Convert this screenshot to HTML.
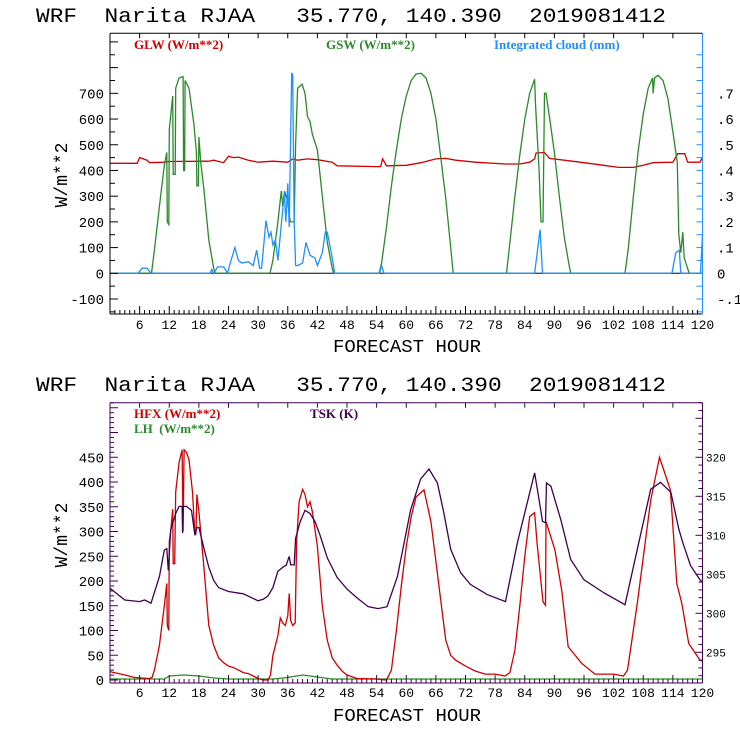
<!DOCTYPE html>
<html><head><meta charset="utf-8"><style>
body{margin:0;background:#fff}
svg{display:block}
text{font-family:"Liberation Mono",monospace}
.ttl{white-space:pre}
.leg{font-family:"Liberation Serif",serif;font-size:13px;font-weight:bold}
</style></head><body>
<svg id="chart" width="740" height="740" viewBox="0 0 740 740" xmlns="http://www.w3.org/2000/svg">
<rect width="740" height="740" fill="#fff"/>
<text class="ttl" xml:space="preserve" x="36" y="22" font-size="20" textLength="630" lengthAdjust="spacingAndGlyphs">WRF  Narita RJAA   35.770, 140.390  2019081412</text>
<text class="ttl" xml:space="preserve" x="36" y="391" font-size="20" textLength="630" lengthAdjust="spacingAndGlyphs">WRF  Narita RJAA   35.770, 140.390  2019081412</text>
<text class="leg" x="134" y="49" fill="#d00000">GLW (W/m**2)</text>
<text class="leg" x="326" y="49" fill="#2a8a2a">GSW (W/m**2)</text>
<text class="leg" x="494" y="49" fill="#1e90ff">Integrated cloud (mm)</text>
<text class="leg" x="134" y="418" fill="#d00000">HFX (W/m**2)</text>
<text class="leg ttl" xml:space="preserve" x="134" y="433" fill="#2a8a2a">LH  (W/m**2)</text>
<text class="leg" x="310" y="418" fill="#400050">TSK (K)</text>
<text x="333" y="352" font-size="18" textLength="148" lengthAdjust="spacingAndGlyphs">FORECAST HOUR</text>
<text x="333" y="721" font-size="18" textLength="148" lengthAdjust="spacingAndGlyphs">FORECAST HOUR</text>
<text transform="translate(67,175) rotate(-90)" text-anchor="middle" font-size="18">W/m**2</text>
<text transform="translate(67,535) rotate(-90)" text-anchor="middle" font-size="18">W/m**2</text>
<g id="g"></g>
</svg>
<script>
// ---- data ----
const xTicks=[6,12,18,24,30,36,42,48,54,60,66,72,78,84,90,96,102,108,114,120];
const topLeftTicks=[-100,0,100,200,300,400,500,600,700];
const topRightTicks=[-0.1,0,0.1,0.2,0.3,0.4,0.5,0.6,0.7];
const topRightLabels=["-.1","0",".1",".2",".3",".4",".5",".6",".7"];
const botLeftTicks=[0,50,100,150,200,250,300,350,400,450];
const botRightTicks=[295,300,305,310,315,320];

const glwH=[0,5.5,6,7.5,8,11,12,20,21,23,24,25,26,28,30,33,36,37,38,40,42,45,46,54,54.8,55.2,56,60,63,66,68,70,74,80,83,85,86,86.3,88,89,92,96,100,103,106,108,110,114,115,116.4,117,119.5,120];
const glwV=[428,428,450,440,430,432,435,436,440,430,455,450,452,440,432,436,432,445,440,445,442,432,418,415,415,445,418,420,430,445,447,440,432,425,425,432,445,468,470,447,440,430,420,412,412,420,430,432,465,465,432,432,452];

const gswH=[0,8.4,9,10,11,11.5,11.6,11.9,12,12.7,12.8,13.2,13.3,14,14.8,14.9,15.1,15.2,16,17,17.5,17.6,17.9,18,18.4,19,20,21,21.3,32.4,33,34,34.7,35,35.5,36,36.5,37.3,37.6,38,38.9,39.5,40,40.5,41,42,43,44,45,45.3,54.5,55,56,57,58,59,60,61,62,63,64,65,66,67,68,69,69.5,80.3,81,82,83,84,85,86,86.2,86.9,87.3,87.7,88,88.3,89,90,91,92,93,93.3,104.3,105,106,107,108,109,109.9,110,110.3,111,112,113,114,114.9,115.2,115.6,116,116.3,117.3,120];
const gswV=[0,0,90,260,420,470,200,190,560,690,385,385,720,760,765,400,400,750,720,580,470,340,340,530,430,330,130,20,0,0,50,200,320,260,310,280,200,200,500,720,735,700,610,590,540,480,300,120,20,0,0,40,180,340,480,600,690,750,775,778,760,700,600,450,290,100,0,0,120,300,460,600,700,755,650,400,200,200,700,700,610,470,300,140,30,0,0,100,300,480,620,720,760,700,760,770,750,680,550,430,150,80,160,60,0,0];

const cldH=[0,5.7,6.5,7.5,8.3,20.3,20.6,21,21.8,23,23.8,24.5,25.3,26,26.7,28,29,29.7,30.3,30.7,31.6,32.2,32.6,33,33.5,34,35,35.3,35.6,36,36.3,36.8,37,37.3,37.6,38,39,39.7,40.5,41.5,42,43,43.6,44,45,45.5,54.6,55,55.5,86,87.1,87.6,113.8,114.6,115.3,115.6,119.6,120];
const cldV=[0,0,0.02,0.02,0,0,0.015,0,0.025,0.025,0,0.05,0.1,0.05,0.04,0.045,0.03,0.09,0.02,0.02,0.205,0.14,0.16,0.11,0.13,0.05,0.25,0.32,0.2,0.35,0.18,0.78,0.77,0.2,0.03,0.03,0.04,0.12,0.07,0.06,0.03,0.08,0.16,0.16,0.06,0,0,0.03,0,0,0.17,0,0,0.08,0.09,0,0,0.15];

const hfxH=[0,3,5,8,8.5,9,10,11,11.5,11.6,11.9,12,12.3,12.7,12.8,13.1,13.3,14,14.6,14.8,15,15.5,16,16.7,17.2,17.4,17.6,18,19,20,21,22,23,24,25,26,27,28,29,30,31,32,32.5,33,34,34.5,35,35.5,36,36.3,36.6,37,37.5,37.8,38.3,39,39.5,40,40.5,41,42,43,44,45,46,47,48,50,54,56,57,58,59,60,61,62,63.6,65,66,67,68,69,70,72,74,76,78,80,81,82,83,84,85,86,86.5,87.7,88.2,88.3,90.1,91.5,92.8,95.5,98.2,102,104,104.8,106.8,109.5,111.3,113.5,114.8,115.8,117.2,119.5,120];
const hfxV=[17,10,5,3,5,20,70,150,195,110,100,280,300,345,235,235,380,440,465,300,465,460,445,380,295,295,375,340,230,110,70,45,35,28,25,20,15,13,8,3,0,0,10,50,90,125,115,110,130,175,120,110,115,280,360,385,375,350,360,340,270,150,80,45,30,18,10,3,2,0,20,100,190,270,330,370,384,320,240,160,80,50,40,28,18,12,12,8,15,60,150,250,330,338,276,158,151,320,263,180,67,34,12,12,8,20,155,363,450,384,195,155,74,40,38];

const lhH=[0,11,12,15,18,21,24,33,36,39,42,45,120];
const lhV=[2,2,8,10,8,4,2,2,5,10,6,2,2];

const tskH=[0,3,6,7,8.3,10,11,11.5,11.8,12.3,13.3,14,14.6,14.7,14.8,15.5,16.5,17.2,17.6,18,19,20,21,22,24,27,30,31,32,33,34,35,35.7,36.3,36.6,37.3,37.6,38.5,39.5,40.5,41.5,42.5,44,46,48,50,52.3,54.3,56.1,58.2,60.9,62.9,64.6,66.3,67.6,69,71,73,76.4,80.1,82.5,86,86.5,87.6,88.2,88.4,89.3,91.3,93.3,96,100.1,104.3,106.8,109.5,111.5,113.6,115.2,116.1,117.6,119.6,120];
const tskV=[303.2,301.7,301.5,301.7,301.3,304.7,308.1,308.3,305.5,310.7,312.8,313.7,313.7,310.3,313.7,313.7,313.2,310.0,311.0,311.0,308.4,305.9,304.2,303.3,302.8,302.5,301.6,301.8,302.2,303.3,305.4,305.9,306.2,307.3,306.2,306.2,309.6,311.7,313.2,312.8,311.8,310.1,307.1,304.6,303.1,302.0,300.85,300.6,300.85,304.7,313.3,317.2,318.5,316.7,312.9,308.2,305.2,303.7,302.4,301.5,309.0,318.0,316.1,311.8,311.6,316.7,316.3,312.0,306.9,304.3,302.6,301.1,308.2,315.9,316.8,315.5,310.8,308.9,306.1,304.2,304.0];

// ---- scales ----
const X0=110,X1=702.5;
const xS=h=>X0+h*(X1-X0)/120;
const yTop=v=>273.3-v*0.2571;
const yCld=mm=>273.3-mm*257.1;
const yBot=v=>680-v*0.495;
const yTsk=t=>457.3+(320-t)*7.8;
const NS="http://www.w3.org/2000/svg";
const g=document.getElementById('g');
function mk(tag,attrs){const e=document.createElementNS(NS,tag);for(const k in attrs)e.setAttribute(k,attrs[k]);g.appendChild(e);return e;}
function series(hs,vs,ys,color,name){
  const pts=hs.map((h,i)=>xS(h).toFixed(1)+','+ys(vs[i]).toFixed(1)).join(' ');
  const el=mk('polyline',{points:pts,fill:'none',stroke:color,'stroke-width':1.3});
  
  
}
function line(x1,y1,x2,y2,c,name){
  const el=mk('line',{x1,y1,x2,y2,stroke:c,'stroke-width':1});
  
  
}
function txt(x,y,s,anchor,size,c,name){
  const el=mk('text',{x,y,'text-anchor':anchor,'font-size':size,fill:c});
  el.textContent=s;
  
  
}
// ---- top panel ----
const TT=33.3,TB=314;
line(X0,yTop(0),X1,yTop(0),'#000','top-zero-line');
series(glwH,glwV,yTop,'#d00000','glw-line');
series(gswH,gswV,yTop,'#2a8a2a','gsw-line');
series(cldH,cldV,yCld,'#1e90ff','cloud-line');
line(X0,TT,X1,TT,'#000','top-frame-top');
line(X0,TB,X1,TB,'#000','top-frame-bottom');
line(X0,TT,X0,TB,'#000','top-frame-left');
line(X1,TT,X1,TB,'#1e90ff','top-frame-right');
for(let v=-150;v<=900;v+=50){const y=yTop(v);if(y>TB||y<TT)continue;line(X0,y,X0+(v%100===0?8:5),y,'#000','top-left-tick');}
topLeftTicks.forEach(v=>txt(104,yTop(v)+5,String(v),'end',14,'#000','top-left-tick-label'));
for(let v=-0.15;v<=0.9;v+=0.05){const y=yCld(v);if(y>TB||y<TT)continue;line(X1-6,y,X1,y,'#1e90ff','top-right-tick');}
topRightTicks.forEach((v,i)=>txt(717,yCld(v)+5,topRightLabels[i],'start',14,'#000','top-right-tick-label'));
for(let h=1;h<120;h++){line(xS(h),TB,xS(h),TB-(h%6===0?8:4),'#000','top-x-tick');}
for(let h=6;h<120;h+=6){line(xS(h),TT,xS(h),TT+5,'#000','top-x-tick-top');}
xTicks.forEach(h=>txt(xS(h),329,String(h),'middle',13,'#000','top-x-tick-label'));
// ---- bottom panel ----
const BT=402.7,BB=683;
series(lhH,lhV,yBot,'#2a8a2a','lh-line');
series(hfxH,hfxV,yBot,'#d00000','hfx-line');
series(tskH,tskV,yTsk,'#400050','tsk-line');
const pc='#400050';
line(X0,BT,X1,BT,pc,'bottom-frame-top');
line(X0,BB,X1,BB,pc,'bottom-frame-bottom');
line(X0,BT,X0,BB,pc,'bottom-frame-left');
line(X1,BT,X1,BB,pc,'bottom-frame-right');
for(let v=0;v<=560;v+=10){const y=yBot(v);if(y<BT)continue;line(X0,y,X0+(v%50===0?8:4),y,pc,'bottom-left-tick');}
botLeftTicks.forEach(v=>txt(104,yBot(v)+5,String(v),'end',14,'#000','bottom-left-tick-label'));
for(let t=292;t<=327;t++){const y=yTsk(t);if(y>BB||y<BT)continue;line(X1-(t%5===0?7:4),y,X1,y,pc,'bottom-right-tick');}
botRightTicks.forEach(t=>txt(706,yTsk(t)+4,String(t),'start',11,'#000','bottom-right-tick-label'));
for(let h=1;h<120;h++){line(xS(h),BB,xS(h),BB-(h%6===0?8:4),pc,'bottom-x-tick');}
for(let h=6;h<120;h+=6){line(xS(h),BT,xS(h),BT+5,pc,'bottom-x-tick-top');}
xTicks.forEach(h=>txt(xS(h),697,String(h),'middle',13,'#000','bottom-x-tick-label'));
</script>
</body></html>
